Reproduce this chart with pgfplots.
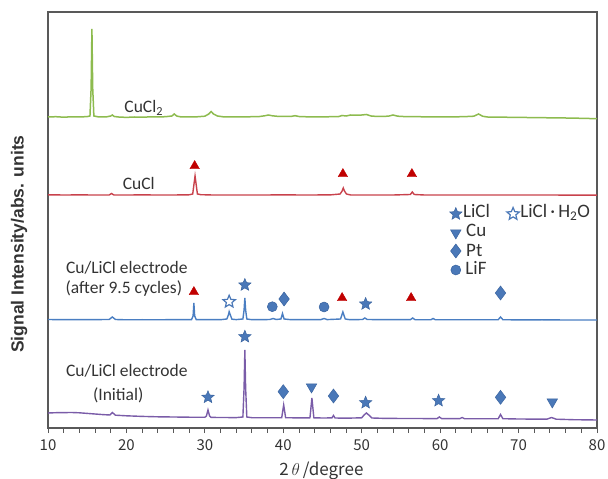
\documentclass[border=0pt]{standalone}
\usepackage{pgfplots}
\pgfplotsset{compat=1.18}
\usepackage{fontspec}
\setmainfont{Carlito}
\newfontfamily\cjk{Noto Sans CJK JP}
\newfontfamily\arialf{Liberation Sans}
\usetikzlibrary{plotmarks}
\definecolor{cgreen}{HTML}{8DBB4F}
\definecolor{cred}{HTML}{C8424C}
\definecolor{cblue}{HTML}{4A7EC2}
\definecolor{cpurple}{HTML}{7A5CA8}
\definecolor{mred}{HTML}{C00000}
\definecolor{mblue}{HTML}{4A78B8}
\definecolor{mblued}{HTML}{3A64A0}
\definecolor{txt}{HTML}{333333}
\pgfdeclareplotmark{fstar}{%
 \pgfpathmoveto{\pgfpointpolar{90}{\pgfplotmarksize}}%
 \pgfpathlineto{\pgfpointpolar{126}{0.45\pgfplotmarksize}}%
 \pgfpathlineto{\pgfpointpolar{162}{\pgfplotmarksize}}%
 \pgfpathlineto{\pgfpointpolar{198}{0.45\pgfplotmarksize}}%
 \pgfpathlineto{\pgfpointpolar{234}{\pgfplotmarksize}}%
 \pgfpathlineto{\pgfpointpolar{270}{0.45\pgfplotmarksize}}%
 \pgfpathlineto{\pgfpointpolar{306}{\pgfplotmarksize}}%
 \pgfpathlineto{\pgfpointpolar{342}{0.45\pgfplotmarksize}}%
 \pgfpathlineto{\pgfpointpolar{18}{\pgfplotmarksize}}%
 \pgfpathlineto{\pgfpointpolar{54}{0.45\pgfplotmarksize}}%
 \pgfpathclose\pgfusepathqfillstroke}
\begin{document}
\begin{tikzpicture}
\useasboundingbox (0,0) rectangle (608bp,479bp);
\begin{axis}[
  at={(48bp,51bp)}, anchor=south west,
  scale only axis, width=549bp, height=416bp,
  xmin=10, xmax=80, ymin=0, ymax=416,
  xtick={10,20,...,80}, minor x tick num=4,
  ytick=\empty,
  xtick pos=left, tick align=outside,
  major tick length=5bp, minor tick length=4.5bp,
  every tick/.style={draw=black!65, line width=0.9bp},
  axis line style={draw=black!65, line width=1.4bp},
  /pgf/number format/assume math mode=true,
  xticklabel style={font=\cjk\fontsize{15bp}{17bp}\selectfont, text=txt, yshift=-3bp},
  xlabel={{\cjk 2}$\,\theta$\,{\cjk /degree}},
  xlabel style={at={(axis description cs:0.498,-0.103)}, anchor=center, font=\cjk\fontsize{17bp}{19bp}\selectfont, text=txt},
  ylabel={Signal Intensity/abs. units},
  ylabel style={at={(axis description cs:-0.0528,0.442)}, anchor=center, font=\arialf\bfseries\fontsize{17.5bp}{20bp}\selectfont, text=txt},
  clip=false,
]
% CuCl2 (green)
\addplot[cgreen, line width=1.5bp] coordinates {
(10,311)(11,311.3)(12,310.8)(13,311.2)(14,311)(15,311.4)(15.35,312)(15.5,340)(15.6,399)(15.7,340)(15.85,312)(16.5,311)(17.5,311.2)(18.0,312)(18.2,313)(18.45,311.5)(19,311)(20,310.6)(21,311)(22,310.8)(23,311.1)(24,311)(25,311.3)(25.8,312)(26.1,314)(26.4,312)(27,311)(28,311)(29,311.2)(30,311.8)(30.5,314)(30.8,316.5)(31.1,314)(31.6,312)(32.5,311)(34,311.2)(35,311)(36,311.3)(37,311.5)(37.7,312.3)(38.1,313)(38.6,312.2)(39.5,311.5)(41,311.6)(41.5,312.3)(42,311.5)(43,311.2)(44,311)(45,311)(46,311.3)(47,311.3)(47.5,312.5)(48,312)(48.6,313)(49.2,312.8)(50,313)(50.6,313.5)(51.2,312)(52,311.5)(53.4,311.8)(54,313)(54.6,311.8)(55.5,311.4)(57,311.3)(58,311.2)(59,311.1)(60,311.2)(61,311)(62,311.2)(63,311.3)(64.3,311.8)(64.9,314)(65.4,311.8)(66,311)(68,310.8)(70,310.6)(72,310.4)(74,310.2)(76,310)(78,309.7)(80,309.3)
};
% CuCl (red)
\addplot[cred, line width=1.4bp] coordinates {
(10,233.2)(12,233)(14,233.1)(16,233)(17.8,233)(18.1,234.5)(18.4,233)(20,233)(22,233.1)(24,233)(26,233)(28,233.2)(28.45,234)(28.6,243)(28.75,252)(28.9,243)(29.05,234)(29.5,233.3)(31,233)(34,233)(37,233)(40,233.1)(43,233)(46,233.1)(47.25,234)(47.5,237)(47.65,240)(47.8,237)(48.05,234)(48.6,233)(51,233)(54,233)(56.2,233.5)(56.45,236)(56.7,233.5)(58,233)(62,233)(66,233)(70,233)(74,233)(78,232.8)(80,232.8)
};
% after 9.5 cycles (blue)
\addplot[cblue, line width=1.4bp] coordinates {
(10,108.5)(12,108.3)(14,108.3)(16,108.4)(17.8,108.5)(18.2,111)(18.6,108.5)(20,108.2)(22,108.3)(24,108.2)(26,108.4)(28.3,108.4)(28.5,112)(28.6,125)(28.7,112)(28.9,108.4)(30,108.3)(32,108.3)(32.8,109)(33.0,113)(33.1,116.3)(33.25,113)(33.45,108.8)(34,108.4)(34.85,109)(35.0,118)(35.1,130)(35.2,118)(35.35,109)(36,108.3)(37,108.3)(38.3,108.5)(38.7,109.5)(39.1,108.5)(39.7,109)(39.9,114.5)(40.1,109)(41,108.3)(43,108.3)(44.8,108.4)(45.2,109.5)(45.6,108.4)(47.3,109)(47.6,116)(47.9,109)(48.5,108.3)(50.1,108.5)(50.4,110)(50.7,108.5)(53,108.3)(56.2,108.3)(56.5,110)(56.8,108.3)(58.8,108.2)(59.1,109.5)(59.4,108.2)(62,108.2)(65,108.2)(67.4,108.3)(67.7,111)(68,108.3)(70,108.1)(73,108.2)(76,108)(80,108)
};
% initial (purple)
\addplot[cpurple, line width=1.4bp] coordinates {
(10,15)(11,15.3)(12,15.4)(13,15.5)(14,15.2)(15,14.6)(16,14)(17,13.4)(17.9,13)(18.2,15.5)(18.6,12.8)(20,12.2)(22,11.6)(24,11.2)(26,11)(28,10.8)(30,10.7)(30.2,12)(30.4,18)(30.6,12)(30.8,10.6)(32,10.5)(34,10.4)(34.85,11)(35.0,40)(35.1,78)(35.2,40)(35.35,11)(36,10.3)(38,10.2)(39.8,10.3)(39.95,18)(40.05,23)(40.15,18)(40.3,10.3)(42,10.1)(43.4,10.2)(43.55,22)(43.65,30)(43.75,22)(43.9,10.2)(45,10)(46.2,10.1)(46.4,12.5)(46.6,10)(48,9.8)(50,10.2)(50.3,13)(50.6,15)(50.9,13)(51.3,10)(53,9.6)(56,9.5)(59.6,9.4)(59.9,11)(60.2,9.4)(62.5,9.3)(62.8,10.5)(63.1,9.3)(65,9.2)(67.4,9.3)(67.7,13.5)(68,9.3)(70,9)(73.6,8.8)(74.2,10.5)(74.8,8.8)(77,8.3)(80,8)
};
% markers: CuCl (red triangles)
\addplot[only marks, mark=triangle*, mark size=5.5bp, mark options={fill=mred, draw=mred}] coordinates {
(28.7,262)(47.6,254)(56.4,254)(28.6,136)(47.5,130)(56.3,130)
};
% LiCl stars
\addplot[only marks, mark=fstar, mark size=6.5bp, mark options={fill=mblue, draw=mblued, line width=0.5bp}] coordinates {
(35.1,143)(50.5,124)(30.4,30.7)(35.1,91.3)(50.5,25.3)(59.8,27.3)(62.0,214)
};
% LiCl.H2O hollow star
\addplot[only marks, mark=fstar, mark size=6.5bp, mark options={fill=white, draw=mblue, line width=1.2bp}] coordinates {
(33.1,126.3)(69.3,214)
};
% Pt diamonds
\addplot[only marks, mark=diamond*, mark size=7bp, mark options={fill=mblue, draw=mblued, line width=0.5bp}] coordinates {
(40.1,129)(67.7,135)(40.0,36.3)(46.4,32)(67.7,30.7)(62.0,177)
};
% Cu down triangles
\addplot[only marks, mark=triangle*, mark size=6bp, mark options={fill=mblue, draw=mblued, line width=0.5bp, rotate=180}] coordinates {
(43.6,41)(74.3,26)(62.0,195)
};
% LiF circles
\addplot[only marks, mark=*, mark size=5bp, mark options={fill=mblue, draw=mblued, line width=0.5bp}] coordinates {
(38.6,121.3)(45.2,121)(62.0,158)
};
% labels
\node[anchor=base west, font=\fontsize{17.5bp}{20bp}\selectfont, text=txt] at (axis cs:19.3,315) {CuCl\textsubscript{2}};
\node[anchor=base west, font=\fontsize{17.5bp}{20bp}\selectfont, text=txt] at (axis cs:19.1,238) {CuCl};
\node[anchor=base west, font=\fontsize{17.5bp}{20bp}\selectfont, text=txt] at (axis cs:11.85,154.7) {Cu/LiCl electrode};
\node[anchor=base west, font=\fontsize{17.5bp}{20bp}\selectfont, text=txt] at (axis cs:11.8,134.7) {(after 9.5 cycles)};
\node[anchor=base west, font=\fontsize{17.5bp}{20bp}\selectfont, text=txt] at (axis cs:11.85,51.3) {Cu/LiCl electrode};
\node[anchor=base west, font=\fontsize{17.5bp}{20bp}\selectfont, text=txt] at (axis cs:15.3,28) {(Initial)};
% legend text
\node[anchor=base west, inner sep=0pt, font=\fontsize{19bp}{22bp}\selectfont, text=txt] at (axis cs:62.9,210.7) {LiCl};
\node[anchor=base west, inner sep=0pt, font=\fontsize{19bp}{22bp}\selectfont, text=txt] at (axis cs:70.2,210.7) {LiCl\,·\,H\textsubscript{2}O};
\node[anchor=base west, inner sep=0pt, font=\fontsize{19bp}{22bp}\selectfont, text=txt] at (axis cs:63.3,191.3) {Cu};
\node[anchor=base west, inner sep=0pt, font=\fontsize{19bp}{22bp}\selectfont, text=txt] at (axis cs:63.3,171.3) {Pt};
\node[anchor=base west, inner sep=0pt, font=\fontsize{19bp}{22bp}\selectfont, text=txt] at (axis cs:63.2,153) {LiF};
\end{axis}
\end{tikzpicture}
\end{document}
